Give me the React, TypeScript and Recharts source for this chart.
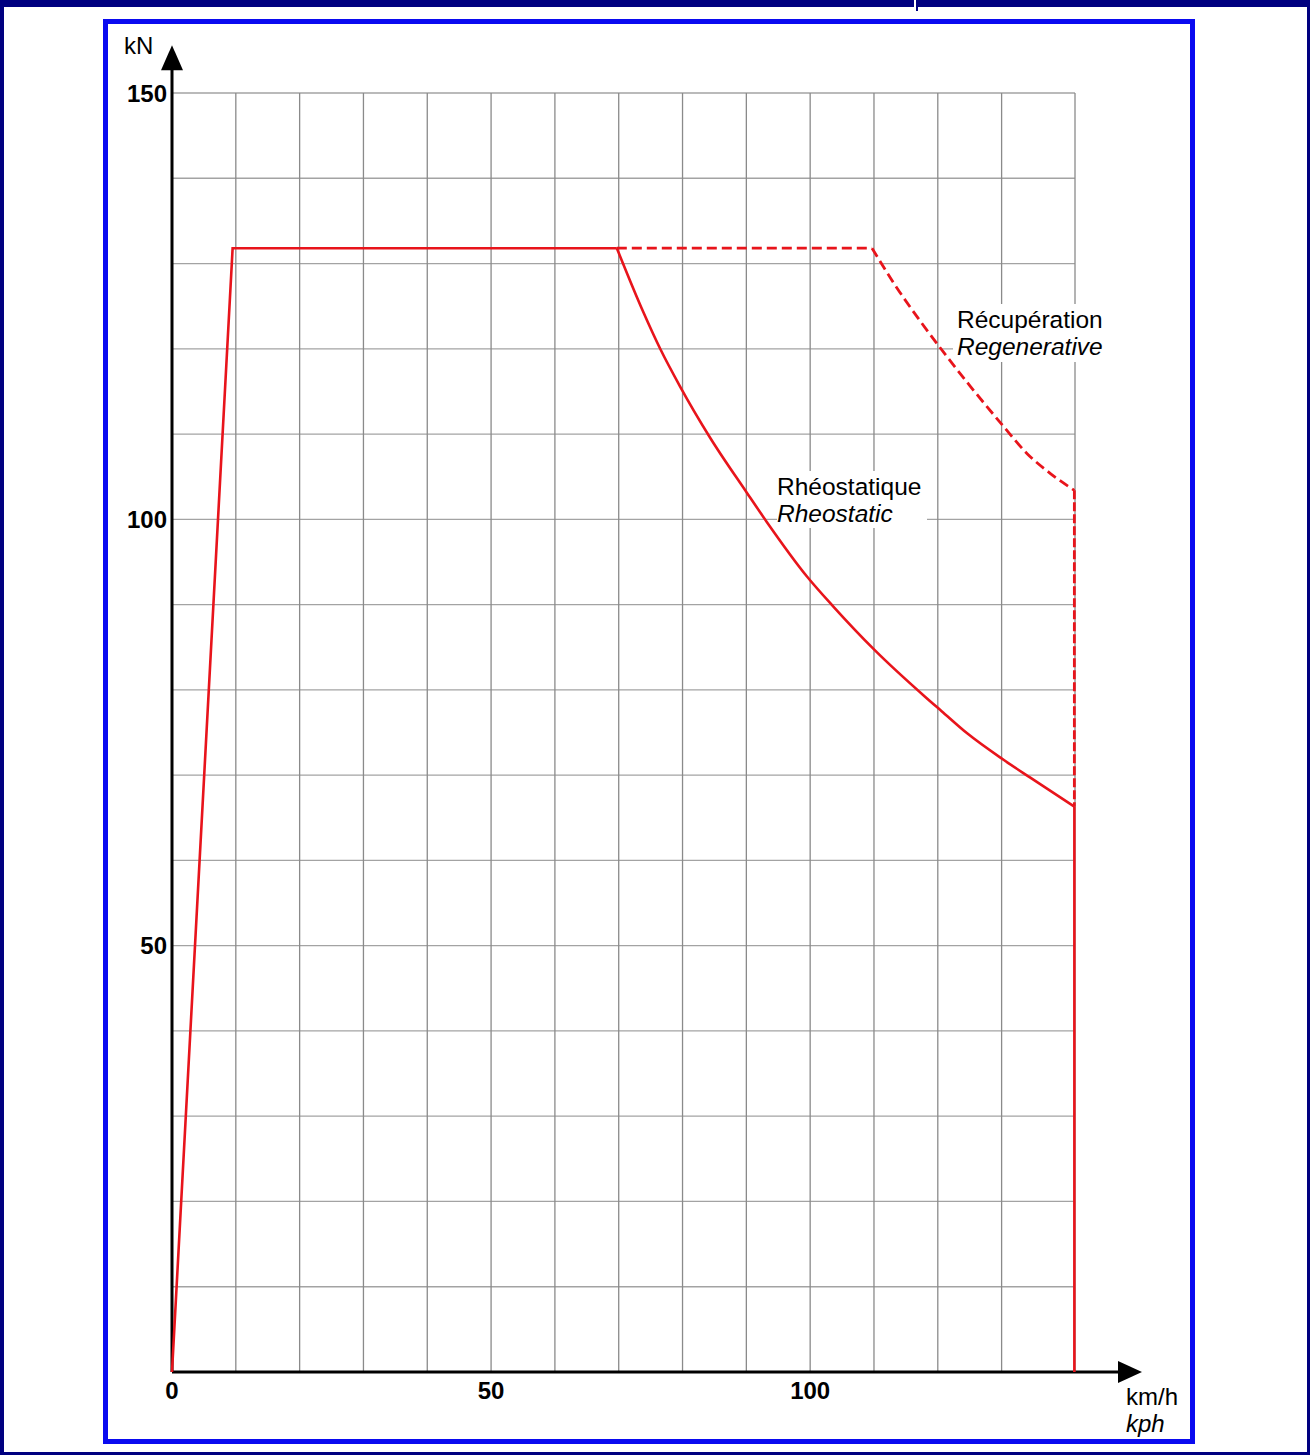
import React from "react";
import {
  ComposedChart,
  Line,
  XAxis,
  YAxis,
  ReferenceLine,
  ReferenceDot,
} from "recharts";

// traction envelope up to 70 km/h (solid, straight segments)
const envSpeed = [0, 9.5, 69.7];
const envForce = [0, 131.8, 131.8];

// rheostatic braking curve (solid)
const rheoSpeed = [69.7, 73.8, 76.5, 79.6, 84.3, 90.1, 93.2, 99.5, 103.6, 110.2, 118.0, 120.6, 124.6, 130.3, 134.5, 141.4];
const rheoForce = [131.8, 124.4, 120.0, 115.6, 109.6, 103.1, 99.7, 93.3, 89.8, 84.6, 79.2, 77.5, 74.9, 71.8, 69.7, 66.3];

// solid drop to zero at max speed
const maxSpeed = [141.4, 141.4];
const maxForce = [66.3, 0];

// regenerative braking (dashed): flat part then curve
const regenFlatSpeed = [69.7, 109.7];
const regenFlatForce = [131.8, 131.8];
const regenSpeed = [109.7, 113.1, 117.2, 120.9, 125.1, 130.3, 134.0, 137.6, 141.4];
const regenForce = [131.8, 127.7, 123.3, 119.6, 115.6, 110.9, 107.7, 105.4, 103.4];

// vertical dashed limit at max speed
const limitSpeed = [141.4, 141.4];
const limitForce = [103.4, 66.3];

const xTicks = [0, 50, 100];
const yTicks = [50, 100, 150];
const gridSpeeds = [10, 20, 30, 40, 50, 60, 70, 80, 90, 100, 110, 120, 130, 141.5];
const gridForces = [10, 20, 30, 40, 50, 60, 70, 80, 90, 100, 110, 120, 130, 140, 150];

const toRows = (xs: number[], ys: number[]) => xs.map((speed, i) => ({ speed, force: ys[i] }));

const RED = "#e8141b";
const FONT = "'Liberation Sans', Arial, sans-serif";

const UpArrow = (props: any) => {
  const { cx, cy } = props;
  return <path d={`M${cx},${cy} L${cx - 11},${cy + 25} L${cx + 11},${cy + 25} Z`} fill="#000" />;
};

const RightArrow = (props: any) => {
  const { cx, cy } = props;
  return <path d={`M${cx},${cy} L${cx - 24},${cy - 11} L${cx - 24},${cy + 11} Z`} fill="#000" />;
};

const series = [
  { key: "env", data: toRows(envSpeed, envForce), type: "linear", dash: undefined, width: 2.6 },
  { key: "rheo", data: toRows(rheoSpeed, rheoForce), type: "monotone", dash: undefined, width: 2.6 },
  { key: "max", data: toRows(maxSpeed, maxForce), type: "linear", dash: undefined, width: 2.6 },
  { key: "regenFlat", data: toRows(regenFlatSpeed, regenFlatForce), type: "linear", dash: "10 5", width: 2.8 },
  { key: "regen", data: toRows(regenSpeed, regenForce), type: "monotone", dash: "10 5", width: 2.8 },
  { key: "limit", data: toRows(limitSpeed, limitForce), type: "linear", dash: "9 3", width: 2.8 },
];

export default function App() {
  return (
    <div style={{ position: "absolute", left: 0, top: 0, width: 1310, height: 1455, background: "#fff", fontFamily: FONT }}>
      <ComposedChart
        width={1310}
        height={1455}
        margin={{ top: 93, right: 235, bottom: 43, left: 112 }}
      >
        <XAxis
          type="number"
          dataKey="speed"
          domain={[0, 141.5]}
          ticks={xTicks}
          height={40}
          axisLine={false}
          tickLine={false}
          tickSize={0}
          tickMargin={10}
          interval={0}
          tick={{ fill: "#000", fontSize: 24, fontWeight: "bold", fontFamily: FONT }}
        />
        <YAxis
          type="number"
          dataKey="force"
          domain={[0, 150]}
          ticks={yTicks}
          width={60}
          axisLine={false}
          tickLine={false}
          tickSize={0}
          tickMargin={5}
          interval={0}
          tick={{ fill: "#000", fontSize: 24, fontWeight: "bold", fontFamily: FONT }}
        />
        {gridForces.map((v) => (
          <ReferenceLine key={"h" + v} y={v} stroke="#a3a3a3" strokeWidth={1.3} />
        ))}
        {gridSpeeds.map((v) => (
          <ReferenceLine key={"v" + v} x={v} stroke="#8a8a8a" strokeWidth={1.3} />
        ))}
        <ReferenceLine
          segment={[{ x: 0, y: 0 }, { x: 0, y: 152.7 }]}
          stroke="#000"
          strokeWidth={3}
          ifOverflow="visible"
        />
        <ReferenceLine
          segment={[{ x: 0, y: 0 }, { x: 148.5, y: 0 }]}
          stroke="#000"
          strokeWidth={3}
          ifOverflow="visible"
        />
        <ReferenceDot x={0} y={155.6} ifOverflow="visible" shape={UpArrow} />
        <ReferenceDot x={152} y={0} ifOverflow="visible" shape={RightArrow} />
        {series.map((s) => (
          <Line
            key={s.key}
            data={s.data}
            dataKey="force"
            type={s.type as any}
            stroke={RED}
            strokeWidth={s.width}
            strokeDasharray={s.dash}
            dot={false}
            activeDot={false}
            isAnimationActive={false}
          />
        ))}
      </ComposedChart>

      <svg
        width={1310}
        height={1455}
        style={{ position: "absolute", left: 0, top: 0, pointerEvents: "none" }}
      >
        {/* label backgrounds hide the grid behind the text */}
        <rect x={777} y={471} width={150} height={57} fill="#fff" />
        <rect x={953} y={304} width={158} height={58} fill="#fff" />
        <text x={777} y={495} fontSize={24.5} fill="#000" fontFamily={FONT}>Rhéostatique</text>
        <text x={777} y={522} fontSize={24.5} fill="#000" fontStyle="italic" fontFamily={FONT}>Rheostatic</text>
        <text x={957} y={328} fontSize={24.5} fill="#000" fontFamily={FONT}>Récupération</text>
        <text x={957} y={355} fontSize={24.5} fill="#000" fontStyle="italic" fontFamily={FONT}>Regenerative</text>

        <text x={124} y={54} fontSize={24} fill="#000" fontFamily={FONT}>kN</text>
        <text x={1126} y={1405} fontSize={24} fill="#000" fontFamily={FONT}>km/h</text>
        <text x={1126} y={1432} fontSize={24} fill="#000" fontStyle="italic" fontFamily={FONT}>kph</text>

        {/* inner blue frame */}
        <rect x={105.5} y={21.5} width={1087} height={1420} fill="none" stroke="#0a0af0" strokeWidth={5} />
        {/* outer navy frame */}
        <rect x={0} y={0} width={1310} height={7} fill="#000080" />
        <rect x={0} y={0} width={4} height={1455} fill="#000080" />
        <rect x={1307} y={0} width={3} height={1455} fill="#000080" />
        <rect x={0} y={1452} width={1310} height={3} fill="#000080" />
        <rect x={914} y={0} width={2} height={7} fill="#fff" />
        <rect x={916} y={0} width={2} height={11} fill="#000080" />
      </svg>
    </div>
  );
}
